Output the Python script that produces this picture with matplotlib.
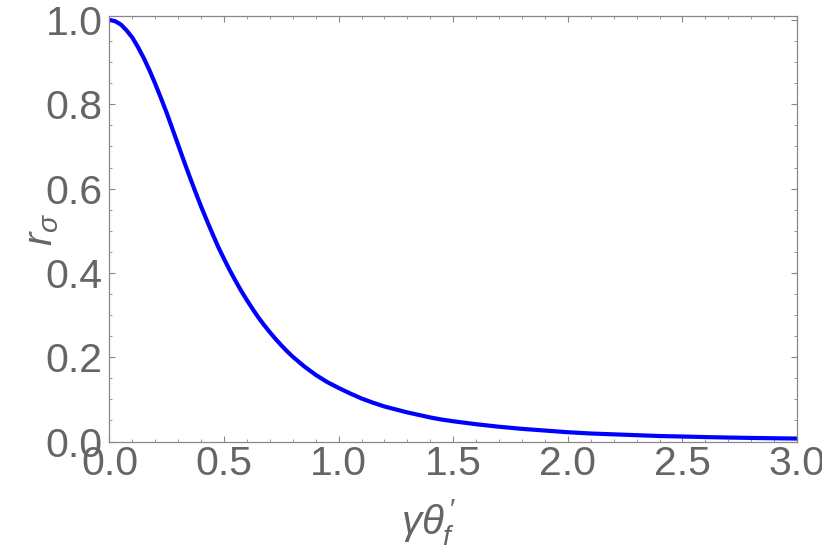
import matplotlib
matplotlib.use("Agg")
import matplotlib.pyplot as plt
from matplotlib.ticker import MultipleLocator

# values
x_vals = [0.0, 0.025, 0.05, 0.075, 0.1, 0.125, 0.15, 0.175, 0.2, 0.225, 0.25, 0.275, 0.3,
          0.325, 0.35, 0.375, 0.4, 0.425, 0.45, 0.475, 0.5, 0.525, 0.55, 0.575, 0.6,
          0.625, 0.65, 0.675, 0.7, 0.725, 0.75, 0.775, 0.8, 0.85, 0.9, 0.95, 1.0,
          1.05, 1.1, 1.15, 1.2, 1.25, 1.3, 1.35, 1.4, 1.45, 1.5, 1.6, 1.7, 1.8, 1.9,
          2.0, 2.1, 2.2, 2.3, 2.4, 2.5, 2.6, 2.7, 2.8, 2.9, 3.0]
r_vals = [1.0, 0.997, 0.989, 0.975, 0.958, 0.935, 0.909, 0.880, 0.848, 0.814, 0.779, 0.741, 0.703,
          0.665, 0.628, 0.592, 0.557, 0.524, 0.492, 0.461, 0.433, 0.406, 0.381, 0.357, 0.335,
          0.314, 0.294, 0.276, 0.259, 0.243, 0.228, 0.214, 0.201, 0.178, 0.158, 0.141, 0.127,
          0.114, 0.102, 0.092, 0.083, 0.076, 0.069, 0.063, 0.057, 0.052, 0.048, 0.041, 0.035, 0.030, 0.026,
          0.022, 0.019, 0.017, 0.015, 0.013, 0.0118, 0.0105, 0.0094, 0.0085, 0.0077, 0.007]

grey = "#656565"
plt.rcParams['font.family'] = ['Liberation Sans', 'DejaVu Sans']
plt.rcParams['mathtext.fontset'] = 'custom'
plt.rcParams['mathtext.it'] = 'Liberation Sans:italic'
plt.rcParams['mathtext.rm'] = 'Liberation Sans'

fig = plt.figure(figsize=(8.22, 5.6), dpi=100)
ax = fig.add_axes([0.1332, 0.2116, 0.8364, 0.759])

ax.plot(x_vals, r_vals, color=(0, 0, 1), lw=3.0, solid_capstyle='butt')

ax.set_xlim(0, 3.0)
ax.set_ylim(0, 1.0083)
ax.xaxis.set_major_locator(MultipleLocator(0.5))
ax.xaxis.set_minor_locator(MultipleLocator(0.1))
ax.yaxis.set_major_locator(MultipleLocator(0.2))
ax.yaxis.set_minor_locator(MultipleLocator(0.05))
ax.xaxis.set_major_formatter(plt.FormatStrFormatter('%.1f'))
ax.yaxis.set_major_formatter(plt.FormatStrFormatter('%.1f'))

ax.tick_params(which='both', direction='in', top=True, right=True, color='#888888',
               labelcolor=grey, labelsize=29.5)
ax.tick_params(which='major', length=4.5, width=0.8)
ax.tick_params(which='minor', length=2.5, width=0.6)
ax.tick_params(axis='x', pad=2.5)
ax.tick_params(axis='y', pad=5)
for s in ax.spines.values():
    s.set_color('#888888')
    s.set_linewidth(0.9)

ax.set_xlabel(r"$\gamma\theta_f^{\,\prime}$", fontsize=29, color=grey, va='center')
ax.xaxis.set_label_coords(0.465, -0.19)
ax.set_ylabel(r"$r_\sigma$", fontsize=29, color=grey, va='center')
ax.yaxis.set_label_coords(-0.098, 0.50)

fig.savefig("out.png", dpi=100)
